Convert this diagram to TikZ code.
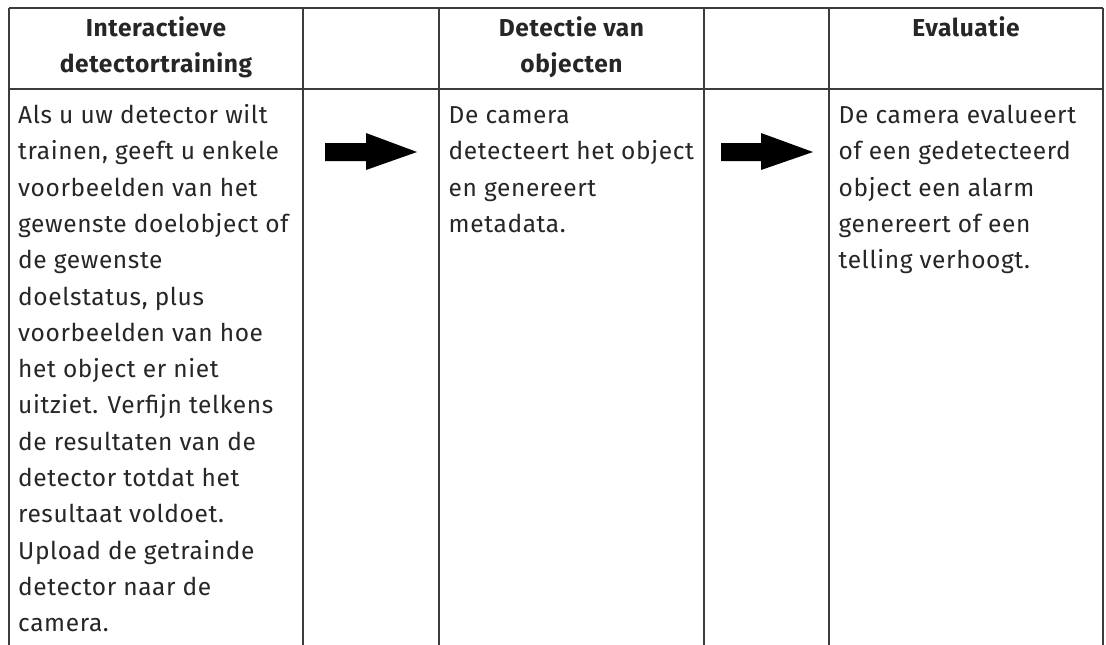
\documentclass[tikz,border=0pt]{standalone}
\usepackage{fontspec}
\setmainfont{Fira Sans}[LetterSpace=2.5]
\definecolor{rule}{HTML}{3C3C3C}
\definecolor{ink}{HTML}{262626}
\begin{document}
\begin{tikzpicture}[x=1pt,y=-1pt,
  gridline/.style={draw=rule,line width=1.3pt},
  headtext/.style={anchor=base,align=center,text=ink,inner sep=0pt,
    font=\fontsize{24.5}{36.4}\selectfont\bfseries},
  bodytext/.style={anchor=base west,align=left,text=ink,inner sep=0pt,
    font=\fontsize{24.5}{36.3}\selectfont},
  flowarrow/.style={fill=black,draw=none}]
  \useasboundingbox (0,0) rectangle (1106,645);
  \fill[white] (0,0) rectangle (1106,645);

  % column borders
  \coordinate (c0) at (9,8);
  \coordinate (c1) at (303,8);
  \coordinate (c2) at (439,8);
  \coordinate (c3) at (704,8);
  \coordinate (c4) at (829,8);
  \coordinate (c5) at (1103,8);

  % table rules
  \draw[gridline] (c0) -- (c5);
  \draw[gridline] (9,89) -- (1103,89);
  \foreach \c in {c0,c1,c2,c3,c4,c5}
    \draw[gridline] (\c) -- (\c |- 0,645);

  % column headings (base anchor sits on the last line)
  \node[headtext] (h1) at (156,72.5) {Interactieve\\detectortraining};
  \node[headtext] (h2) at (571.5,72.5) {Detectie van\\objecten};
  \node[headtext] (h3) at (966,36) {Evaluatie};

  % cell contents (base anchor sits on the last line)
  \node[bodytext] (t1) at (18,631.7) {Als u uw detector wilt\\trainen, geeft u enkele\\voorbeelden van het\\gewenste doelobject of\\de gewenste\\doelstatus, plus\\voorbeelden van hoe\\het object er niet\\uitziet. Verfijn telkens\\de resultaten van de\\detector totdat het\\resultaat voldoet.\\Upload de getrainde\\detector naar de\\camera.};
  \node[bodytext] (t2) at (448.5,232.4) {De camera\\detecteert het object\\en genereert\\metadata.};
  \node[bodytext] (t3) at (838.5,268.7) {De camera evalueert\\of een gedetecteerd\\object een alarm\\genereert of een\\telling verhoogt.};

  % block arrows between the steps
  \draw[flowarrow] (325,143) -- (366,143) -- (366,133) -- (417,152)
    -- (366,170) -- (366,161) -- (325,161) -- cycle;
  \draw[flowarrow] (721,143) -- (761,143) -- (761,133) -- (813,152)
    -- (761,170) -- (761,161) -- (721,161) -- cycle;
\end{tikzpicture}
\end{document}
